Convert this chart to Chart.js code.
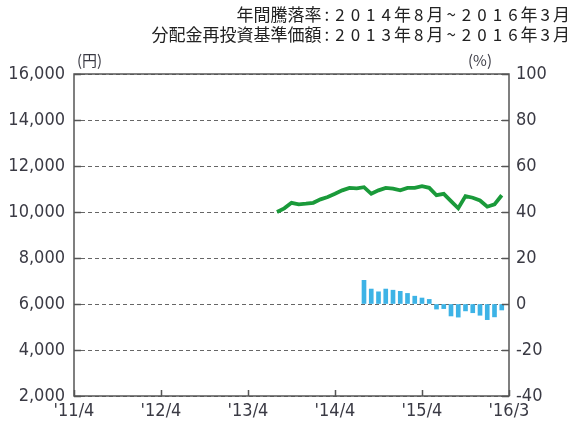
<!DOCTYPE html>
<html>
<head>
<meta charset="utf-8">
<script src="https://cdn.jsdelivr.net/npm/chart.js@4"></script>
<style>
  body { margin: 0; background: #fff; }
  canvas { display: block; }
</style>
</head>
<body>
<canvas id="fund-chart" width="574" height="425"></canvas>
<script>
// Oylar: 0 = 2011/4, 60 = 2016/4 (o'q oxiri)
const xTickMonths = [0, 12, 24, 36, 48, 60];
const xTickLabels = ["'11/4", "'12/4", "'13/4", "'14/4", "'15/4", "'16/3"];

// Baza narxi (yen), 2013/8 dan 2016/3 gacha
const navStartMonth = 28;
const navValues = [10000, 10160, 10400, 10330, 10360, 10400, 10550, 10650, 10790, 10940,
    11050, 11030, 11080, 10790, 10940, 11050, 11020, 10940, 11050, 11050,
    11120, 11050, 10730, 10790, 10470, 10160, 10690, 10620, 10500, 10230,
    10330, 10730];

// Yillik o'zgarish (%), 2014/8 dan 2016/3 gacha
const returnStartMonth = 40;
const returnValues = [10.3, 6.5, 5.3, 6.5, 6.0, 5.5, 4.6, 3.4, 2.6, 2.0,
    -2.2, -2.0, -5.2, -5.7, -3.0, -3.8, -4.9, -6.8, -5.6, -2.6];

const yenTicks = { min: 2000, max: 16000, step: 2000 };
const pctTicks = { min: -40, max: 100, step: 20 };

const titleLines = ['年間騰落率:2014年8月~2016年3月', '分配金再投資基準価額:2013年8月~2016年3月'];

const tickFont = { family: '"Liberation Sans Narrow", "DejaVu Sans Condensed", sans-serif', size: 18 };
const textColor = '#3a3a44';
const axisColor = '#555';

// Raqamlar orasini kengroq qilib, o'ngga tekislab yozish
function drawTitleLine(ctx, text, right, y) {
    const chars = [...text];
    const gaps = chars.map(c => /[0-9:~]/.test(c) ? 6 : 0);
    const widths = chars.map((c, i) => ctx.measureText(c).width + gaps[i]);
    let x = right - widths.reduce((a, b) => a + b, 0);
    chars.forEach((c, i) => {
        ctx.fillText(c, x + gaps[i] / 2, y);
        x += widths[i];
    });
}

// Sarlavha, birliklar, ramka va ichki chiziqchalar
const decorPlugin = {
    id: 'decor',
    afterDraw(chart) {
        const ctx = chart.ctx;
        const area = chart.chartArea;
        const sx = chart.scales.x, sy = chart.scales.y, sy1 = chart.scales.y1;

        ctx.save();
        ctx.strokeStyle = axisColor;
        ctx.lineWidth = 1.5;
        ctx.strokeRect(area.left, area.top, area.right - area.left, area.bottom - area.top);

        ctx.beginPath();
        sy.ticks.forEach(t => {
            const py = Math.round(sy.getPixelForValue(t.value)) + 0.5;
            ctx.moveTo(area.left, py); ctx.lineTo(area.left + 7, py);
        });
        sy1.ticks.forEach(t => {
            const py = Math.round(sy1.getPixelForValue(t.value)) + 0.5;
            ctx.moveTo(area.right, py); ctx.lineTo(area.right - 7, py);
        });
        xTickMonths.forEach(m => {
            const px = Math.round(sx.getPixelForValue(m)) + 0.5;
            ctx.moveTo(px, area.bottom); ctx.lineTo(px, area.bottom - 6);
        });
        ctx.stroke();

        ctx.fillStyle = textColor;
        ctx.textBaseline = 'middle';
        ctx.font = '15px "Noto Sans CJK JP", sans-serif';
        ctx.textAlign = 'left';
        ctx.fillText('(円)', area.left + 3, 60);
        ctx.textAlign = 'right';
        ctx.fillText('(%)', area.right - 17, 60);

        ctx.fillStyle = '#222';
        ctx.textAlign = 'left';
        ctx.font = '17px "Noto Sans CJK JP", sans-serif';
        drawTitleLine(ctx, titleLines[0], 570, 15);
        drawTitleLine(ctx, titleLines[1], 570, 35);
        ctx.restore();
    }
};

document.addEventListener('DOMContentLoaded', function() {
    const canvas = document.getElementById('fund-chart');

    new Chart(canvas, {
        type: 'bar',
        data: {
            datasets: [{
                type: 'line',
                label: '分配金再投資基準価額',
                data: navValues.map((v, i) => ({ x: navStartMonth + i, y: v })),
                yAxisID: 'y',
                borderColor: '#1a9a3a',
                borderWidth: 3.8,
                pointRadius: 0,
                tension: 0,
                order: 1
            }, {
                type: 'bar',
                label: '年間騰落率',
                data: returnValues.map((v, i) => ({ x: returnStartMonth + i, y: v })),
                yAxisID: 'y1',
                backgroundColor: '#3db3e6',
                barThickness: 4,
                order: 2
            }]
        },
        options: {
            responsive: false,
            animation: false,
            layout: { padding: { top: 74, left: 0, right: 0, bottom: 0 } },
            plugins: {
                legend: { display: false },
                tooltip: { enabled: false }
            },
            scales: {
                x: {
                    type: 'linear',
                    min: xTickMonths[0],
                    max: xTickMonths[xTickMonths.length - 1],
                    offset: false,
                    grid: { display: false, drawTicks: false },
                    border: { display: false },
                    afterBuildTicks: scale => { scale.ticks = xTickMonths.map(m => ({ value: m })); },
                    afterFit: scale => { scale.height = 29; },
                    ticks: {
                        autoSkip: false,
                        maxRotation: 0,
                        padding: 5,
                        color: textColor,
                        font: tickFont,
                        callback: (value, i) => xTickLabels[i]
                    }
                },
                y: {
                    position: 'left',
                    min: yenTicks.min,
                    max: yenTicks.max,
                    afterFit: scale => { scale.width = 74; },
                    grid: { color: '#666', lineWidth: 1, drawTicks: false },
                    border: { display: false, dash: [4, 3] },
                    ticks: {
                        stepSize: yenTicks.step,
                        padding: 9,
                        color: textColor,
                        font: tickFont,
                        callback: v => v.toLocaleString('en-US')
                    }
                },
                y1: {
                    position: 'right',
                    min: pctTicks.min,
                    max: pctTicks.max,
                    afterFit: scale => { scale.width = 65; },
                    grid: { drawOnChartArea: false, drawTicks: false },
                    border: { display: false },
                    ticks: {
                        stepSize: pctTicks.step,
                        padding: 7,
                        color: textColor,
                        font: tickFont
                    }
                }
            }
        },
        plugins: [decorPlugin]
    });
});
</script>
</body>
</html>
